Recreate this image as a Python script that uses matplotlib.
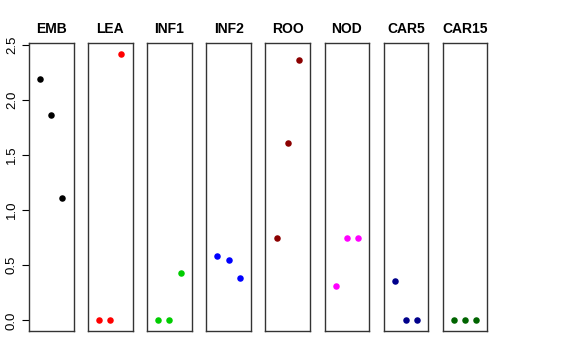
import numpy as np
import matplotlib.pyplot as plt

groups = ["EMB", "LEA", "INF1", "INF2", "ROO", "NOD", "CAR5", "CAR15"]
colors = ["black", "red", "#00CD00", "blue", "#8B0000", "magenta", "#00008B", "#006400"]
values = [
    [2.19, 1.86, 1.11],
    [0.0, 0.0, 2.42],
    [0.0, 0.0, 0.43],
    [0.58, 0.55, 0.38],
    [0.745, 1.61, 2.36],
    [0.31, 0.75, 0.75],
    [0.36, 0.0, 0.0],
    [0.0, 0.0, 0.0],
]
yticks = [0.0, 0.5, 1.0, 1.5, 2.0, 2.5]

W, H = 576, 360
fig = plt.figure(figsize=(W / 100, H / 100), dpi=100)
plt.rcParams['font.family'] = ['Liberation Sans', 'DejaVu Sans']

ymin, ymax = 0.0, 2.42
pad = 0.04 * (ymax - ymin)

left0, step, pw = 29, 59.1, 44.5
top, bottom = 43, 331
for i, (name, col, vals) in enumerate(zip(groups, colors, values)):
    ax = fig.add_axes([(left0 + i * step) / W, (H - bottom) / H, pw / W, (bottom - top) / H])
    x = np.arange(1, len(vals) + 1)
    ax.scatter(x, vals, s=22, color=col, zorder=3, linewidths=0)
    ax.set_xlim(0, 4)
    ax.set_ylim(ymin - pad, ymax + pad)
    ax.set_xticks([])
    for sp in ax.spines.values():
        sp.set_color('#333333')
        sp.set_linewidth(1.0)
    ax.set_title(name, fontsize=10, fontweight='bold', pad=7)
    if i == 0:
        ax.set_yticks(yticks)
        ax.set_yticklabels([f"{t:.1f}" for t in yticks], rotation=90, va='center', fontsize=9.5)
        ax.tick_params(axis='y', length=5, width=0.8, pad=3)
    else:
        ax.set_yticks([])

fig.savefig("out.png", dpi=100)
